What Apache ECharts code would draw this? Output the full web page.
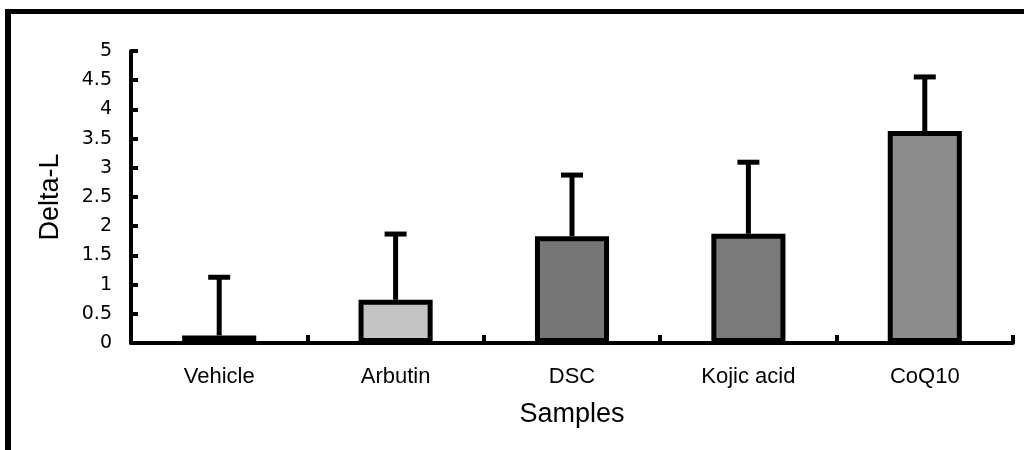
<!DOCTYPE html>
<html>
<head>
<meta charset="utf-8">
<script src="https://cdn.jsdelivr.net/npm/echarts@6/dist/echarts.min.js"></script>
<style>
html,body{margin:0;padding:0;background:#fff;}
#chart{width:1024px;height:450px;}
</style>
</head>
<body>
<div id="chart"></div>
<script>
var categories = ['Vehicle', 'Arbutin', 'DSC', 'Kojic acid', 'CoQ10'];
var means = [0.13, 0.74, 1.83, 1.87, 3.63];
var errorTops = [1.16, 1.9, 2.91, 3.13, 4.59];
var barColors = ['#111111', '#c4c4c4', '#767676', '#7a7a7a', '#8c8c8c'];
var yTicks = [0, 0.5, 1, 1.5, 2, 2.5, 3, 3.5, 4, 4.5, 5];

var chart = echarts.init(document.getElementById('chart'));
var font = '"Liberation Sans", Arial, sans-serif';
var tickFont = '"DejaVu Sans", sans-serif';

var errData = categories.map(function (c, i) { return [i, means[i], errorTops[i]]; });

chart.setOption({
  animation: false,
  backgroundColor: '#fff',
  grid: { left: 131, right: 11, top: 51, bottom: 107, containLabel: false },
  graphic: [
    { type: 'rect', shape: { x: 5, y: 10, width: 6, height: 440 }, style: { fill: '#000' }, silent: true },
    { type: 'rect', shape: { x: 5, y: 9, width: 1019, height: 5 }, style: { fill: '#000' }, silent: true }
  ],
  xAxis: {
    type: 'category',
    data: categories,
    name: 'Samples',
    nameLocation: 'middle',
    nameGap: 58,
    nameTextStyle: { fontFamily: font, fontSize: 27, color: '#000' },
    axisLine: { lineStyle: { color: '#000', width: 4 } },
    axisTick: { show: true, inside: true, length: 8, alignWithLabel: false, lineStyle: { color: '#000', width: 4 } },
    axisLabel: { fontFamily: font, fontSize: 22, color: '#000', margin: 23 }
  },
  yAxis: {
    type: 'value',
    min: 0,
    max: 5,
    interval: 0.5,
    name: 'Delta-L',
    nameLocation: 'middle',
    nameGap: 67,
    nameTextStyle: { fontFamily: font, fontSize: 27, color: '#000' },
    axisLine: { show: true, lineStyle: { color: '#000', width: 4 } },
    axisTick: { show: true, inside: true, length: 7, lineStyle: { color: '#000', width: 4 } },
    axisLabel: {
      fontFamily: tickFont, fontSize: 19, color: '#000', margin: 19,
      formatter: function (v) { return yTicks.indexOf(v) >= 0 ? String(v) : ''; }
    },
    splitLine: { show: false }
  },
  series: [
    {
      type: 'bar',
      data: means.map(function (v, i) {
        return { value: v, itemStyle: { color: barColors[i] } };
      }),
      barWidth: '42%',
      itemStyle: { borderColor: '#000', borderWidth: 5 },
      z: 2
    },
    {
      type: 'custom',
      data: errData,
      z: 3,
      renderItem: function (params, api) {
        var x = api.value(0);
        var base = api.coord([x, api.value(1)]);
        var top = api.coord([x, api.value(2)]);
        var capHalf = 11;
        return {
          type: 'group',
          children: [
            { type: 'line', shape: { x1: base[0], y1: base[1], x2: top[0], y2: top[1] + 2 },
              style: { stroke: '#000', lineWidth: 5 } },
            { type: 'line', shape: { x1: top[0] - capHalf, y1: top[1] + 2, x2: top[0] + capHalf, y2: top[1] + 2 },
              style: { stroke: '#000', lineWidth: 5 } }
          ]
        };
      }
    }
  ]
});
</script>
</body>
</html>
